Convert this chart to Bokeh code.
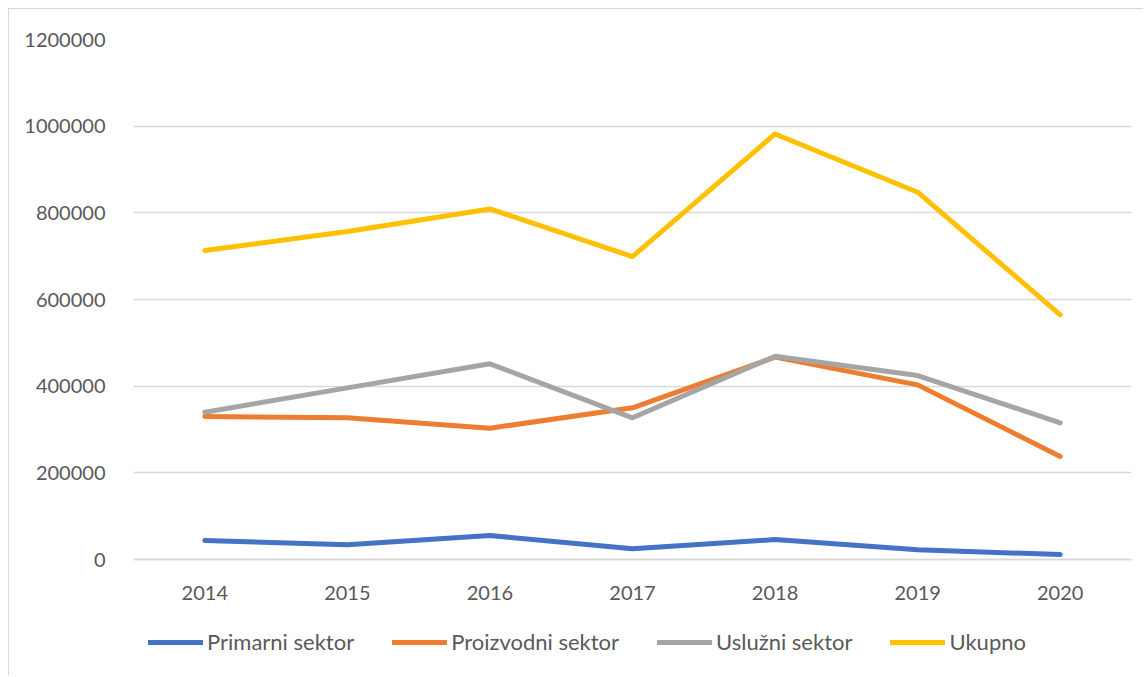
from bokeh.plotting import figure
from bokeh.models import (Legend, LegendItem, FactorRange, Range1d, FixedTicker,
                          NumeralTickFormatter, ColumnDataSource)
from bokeh.embed import file_html
from bokeh.resources import INLINE

years = ["2014", "2015", "2016", "2017", "2018", "2019", "2020"]
primarni = [43800, 34000, 55400, 24600, 46000, 22300, 11500]
proizvodni = [330000, 327000, 303000, 350000, 467000, 403000, 237700]
usluzni = [340000, 396000, 451600, 327000, 469000, 424600, 315400]
ukupno = [713000, 757000, 809000, 699000, 982000, 847600, 564700]
y_ticks = [0, 200000, 400000, 600000, 800000, 1000000, 1200000]

series_names = ["Primarni sektor", "Proizvodni sektor", "Uslužni sektor", "Ukupno"]
series_colors = ["#4472C4", "#ED7D31", "#A5A5A5", "#FFC000"]

FONT = "Lato"
TXT = "#595959"
GRID = "#D9D9D9"

# frame: 520 px for 0..1.2M, plus 116 px below zero for the category labels and legend
Y_TOP = 1200000
Y_BOTTOM = -116 * Y_TOP / 520

p = figure(x_range=FactorRange(*years, range_padding=0),
           y_range=Range1d(Y_BOTTOM, Y_TOP),
           frame_width=998, frame_height=636,
           output_backend="svg", toolbar_location=None,
           min_border_left=124, min_border_right=12,
           min_border_top=30, min_border_bottom=0)
p.margin = (8, 0, 0, 8)
p.outline_line_color = None
p.styles = {"border-top": "1px solid #D9D9D9", "border-left": "1px solid #D9D9D9"}

src = ColumnDataSource(dict(year=years, primarni=primarni, proizvodni=proizvodni,
                            usluzni=usluzni, ukupno=ukupno))
keys = ["primarni", "proizvodni", "usluzni", "ukupno"]
renderers = []
for k, c in zip(keys, series_colors):
    r = p.line(x="year", y=k, source=src, line_width=5, line_color=c,
               line_cap="round", line_join="round")
    renderers.append(r)

p.xgrid.grid_line_color = None
p.ygrid.grid_line_color = GRID
p.ygrid.grid_line_width = 1.3

p.yaxis.ticker = FixedTicker(ticks=y_ticks)
p.yaxis.formatter = NumeralTickFormatter(format="0")
p.yaxis.axis_line_color = None
p.yaxis.major_tick_line_color = None
p.yaxis.minor_tick_line_color = None
p.yaxis.major_label_standoff = 22
p.yaxis.major_label_text_font = FONT
p.yaxis.major_label_text_font_size = "20px"
p.yaxis.major_label_text_color = TXT

p.xaxis.fixed_location = 0
p.xaxis.axis_line_color = GRID
p.xaxis.axis_line_width = 1.3
p.xaxis.major_tick_line_color = None
p.xaxis.minor_tick_line_color = None
p.xaxis.major_label_standoff = 20
p.xaxis.major_label_text_font = FONT
p.xaxis.major_label_text_font_size = "20px"
p.xaxis.major_label_text_color = TXT

items = [LegendItem(label=n, renderers=[r]) for n, r in zip(series_names, renderers)]
legend = Legend(items=items, orientation="horizontal", location=(15, 20),
                glyph_width=55, glyph_height=20, label_standoff=4, spacing=38,
                padding=0, margin=0, border_line_color=None, background_fill_alpha=0,
                label_text_font=FONT, label_text_font_size="22px", label_text_color=TXT)
p.add_layout(legend, "center")

open("out.html", "w").write(file_html(p, INLINE))
